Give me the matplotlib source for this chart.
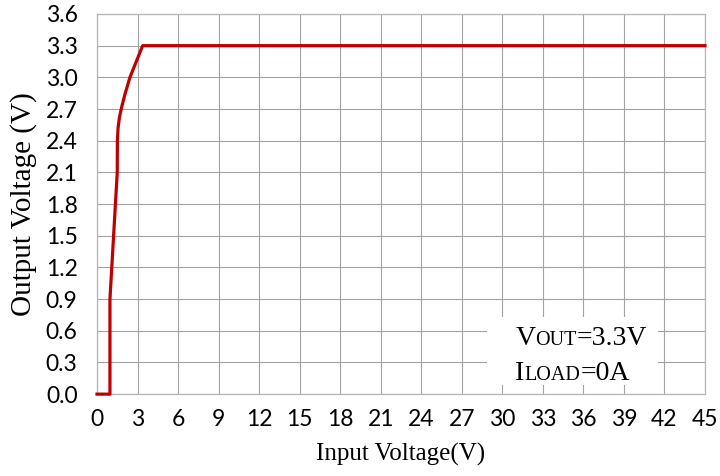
import matplotlib
matplotlib.use("Agg")
import matplotlib.pyplot as plt
from matplotlib.patches import Rectangle
from matplotlib.offsetbox import TextArea, HPacker, VPacker, AnchoredOffsetbox

# 입력 전압 대 출력 전압 (VOUT=3.3V, ILOAD=0A)
vin = [0.0, 0.96, 0.96, 1.50, 1.51, 1.56, 1.66, 1.83, 2.07, 2.44, 3.38, 45.0]
vout = [0.0, 0.0, 0.90, 2.10, 2.40, 2.52, 2.62, 2.72, 2.84, 3.00, 3.30, 3.30]

x_ticks = list(range(0, 46, 3))
y_ticks = [i * 0.3 for i in range(13)]
y_ticklabels = [f"{v:.1f}" for v in y_ticks]

SERIF = ["Liberation Serif", "DejaVu Serif"]
GRID = "#a3a3a3"
RED = "#c00000"

fig = plt.figure(figsize=(7.2, 4.76), dpi=100)
ax = fig.add_axes([0.1347, 0.172, 0.8444, 0.7986])

ax.plot(vin, vout, color=RED, linewidth=2.3, clip_on=False, zorder=3,
        solid_joinstyle="round")

ax.set_xlim(0, 45)
ax.set_ylim(0, 3.6)
ax.set_xticks(x_ticks)
ax.set_yticks(y_ticks)
ax.set_yticklabels(y_ticklabels)
ax.tick_params(length=0, labelsize=16.5)
ax.tick_params(axis="x", pad=11)
ax.tick_params(axis="y", pad=14)
for lab in ax.get_xticklabels() + ax.get_yticklabels():
    lab.set_fontfamily("Lato")

ax.grid(True, color=GRID, linewidth=0.8)
ax.set_axisbelow(True)
for sp in ax.spines.values():
    sp.set_color("#b5b5b5")
    sp.set_linewidth(0.9)

ax.set_xlabel("Input Voltage(V)", fontsize=18, family=SERIF, labelpad=9)
ax.set_ylabel("Output Voltage (V)", fontsize=21, family=SERIF, labelpad=6)

# 조건 표시 박스
ax.add_patch(Rectangle((0.641, 0.024), 0.282, 0.179, transform=ax.transAxes,
                       facecolor="white", edgecolor="none", zorder=2))


def smallcaps(big, small, rest):
    return HPacker(children=[
        TextArea(big, textprops=dict(fontsize=20, family=SERIF)),
        TextArea(small, textprops=dict(fontsize=14.5, family=SERIF)),
        TextArea(rest, textprops=dict(fontsize=20, family=SERIF)),
    ], align="baseline", pad=0, sep=0)


box = VPacker(children=[smallcaps("V", "OUT", "=3.3V"),
                        smallcaps("I", "LOAD", "=0A")],
              align="left", pad=0, sep=7)
anch = AnchoredOffsetbox(loc="upper left", child=box, frameon=False,
                         bbox_to_anchor=(0.688, 0.179),
                         bbox_transform=ax.transAxes, pad=0, borderpad=0)
anch.set_zorder(4)
ax.add_artist(anch)

fig.savefig("out.png", dpi=100)
